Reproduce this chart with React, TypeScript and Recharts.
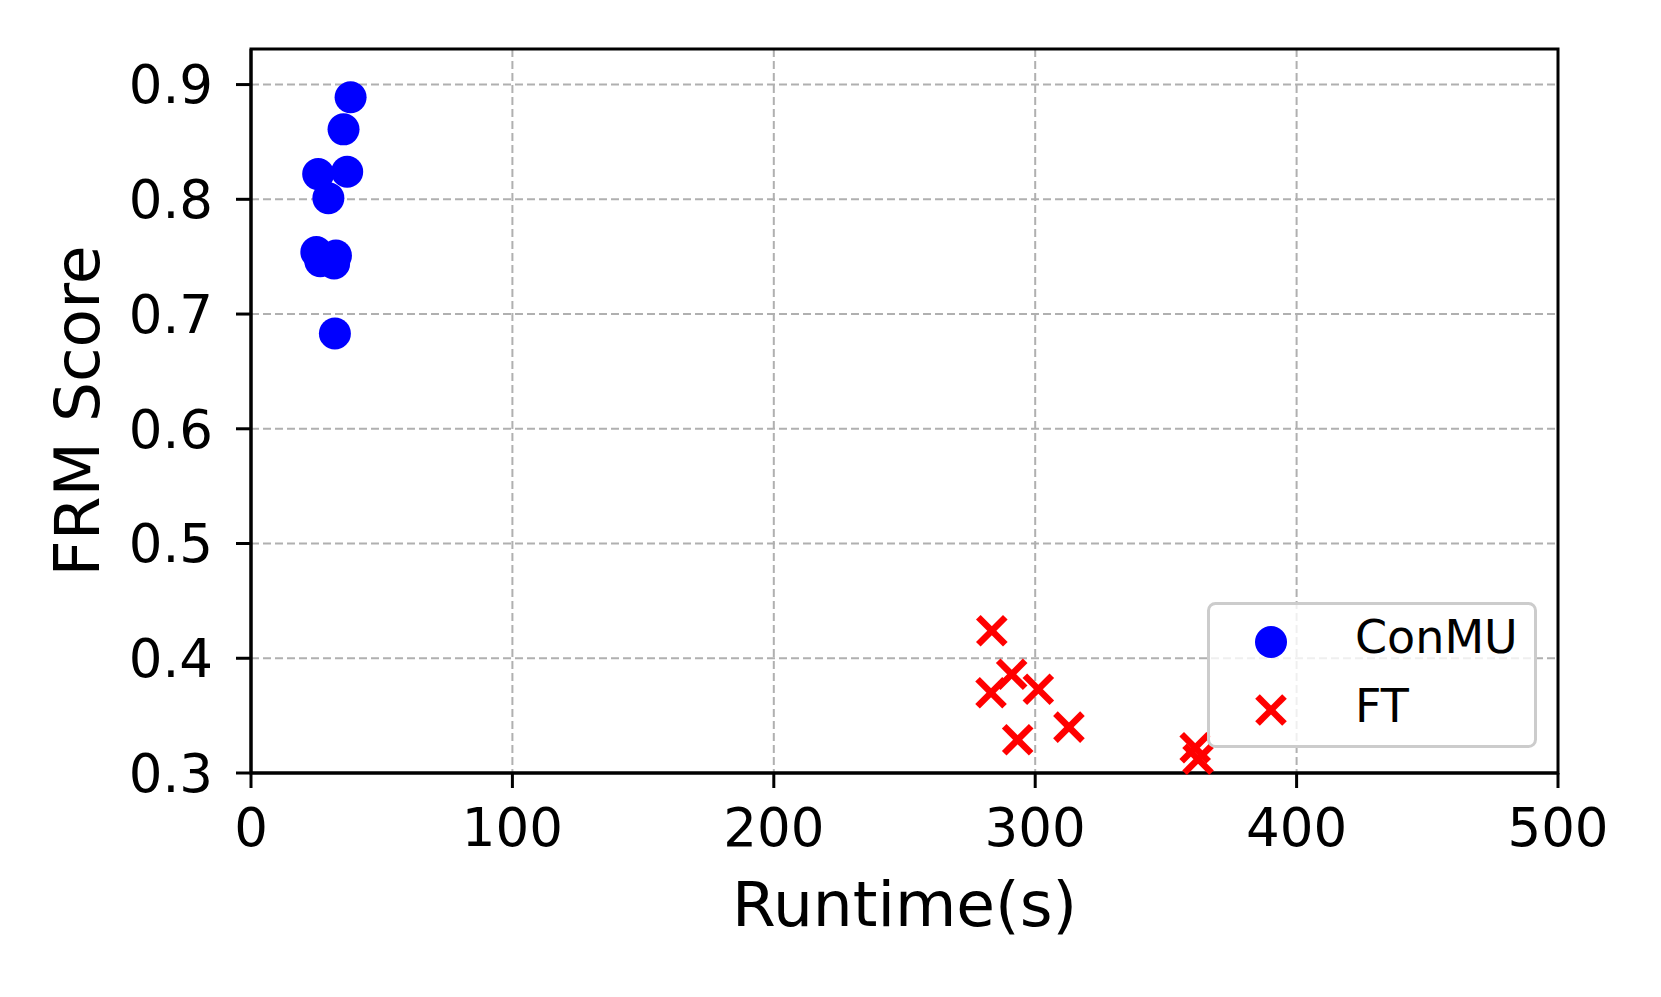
import React from 'react';
import {
  ScatterChart,
  Scatter,
  XAxis,
  YAxis,
  CartesianGrid,
  ReferenceArea,
  Legend,
  Label
} from 'recharts';

const conmuRuntime = [38.1, 35.4, 36.8, 25.7, 29.6, 25.0, 26.5, 32.5, 31.8, 32.1];
const conmuScore = [0.889, 0.861, 0.824, 0.822, 0.801, 0.754, 0.746, 0.751, 0.744, 0.683];

const ftRuntime = [283.4, 291.0, 283.1, 301.2, 293.3, 312.9, 361.2, 362.3];
const ftScore = [0.424, 0.386, 0.370, 0.373, 0.329, 0.340, 0.322, 0.312];

const xTicks = [0, 100, 200, 300, 400, 500];
const yTicks = [0.3, 0.4, 0.5, 0.6, 0.7, 0.8, 0.9];

const conmuData = conmuRuntime.map((x, i) => ({ x, y: conmuScore[i] }));
const ftData = ftRuntime.map((x, i) => ({ x, y: ftScore[i] }));

const FONT = '"DejaVu Sans", sans-serif';
const BLUE = '#0000ff';
const RED = '#ff0000';

const Dot = (props: any) => <circle cx={props.cx} cy={props.cy} r={16} fill={BLUE} />;

const Cross = (props: any) => {
  const { cx, cy } = props;
  const d = 13.5;
  return (
    <g stroke={RED} strokeWidth={6.5}>
      <line x1={cx - d} y1={cy - d} x2={cx + d} y2={cy + d} />
      <line x1={cx - d} y1={cy + d} x2={cx + d} y2={cy - d} />
    </g>
  );
};

const YTitle = () => (
  <text
    x={99}
    y={411}
    transform="rotate(-90 99 411)"
    textAnchor="middle"
    fontFamily={FONT}
    fontSize={63}
    fill="#000"
  >
    FRM Score
  </text>
);

const renderLegend = () => (
  <svg width={330} height={146} style={{ display: 'block' }}>
    <rect x={1.5} y={1.5} width={327} height={143} rx={7} fill="rgba(255,255,255,0.8)" stroke="#cccccc" strokeWidth={3} />
    <circle cx={64} cy={40} r={16} fill={BLUE} />
    <g stroke={RED} strokeWidth={6.5}>
      <line x1={50.5} y1={94.5} x2={77.5} y2={121.5} />
      <line x1={50.5} y1={121.5} x2={77.5} y2={94.5} />
    </g>
    <text x={148} y={51} fontFamily={FONT} fontSize={46} fill="#000">ConMU</text>
    <text x={148} y={120} fontFamily={FONT} fontSize={46} fill="#000">FT</text>
  </svg>
);

export default function App() {
  const tickStyle = { fontFamily: FONT, fontSize: 53, fill: '#000' };
  return (
    <div style={{ position: 'absolute', left: 0, top: 0, background: '#fff' }}>
      <ScatterChart width={1661} height={997} margin={{ top: 49, right: 103, left: 0, bottom: 0 }}>
        <CartesianGrid stroke="#b0b0b0" strokeWidth={2} strokeDasharray="8 4" />
        <XAxis
          type="number"
          dataKey="x"
          domain={[0, 500]}
          ticks={xTicks}
          height={224}
          tick={tickStyle}
          tickSize={15}
          tickMargin={20}
          tickLine={{ stroke: '#000', strokeWidth: 3 }}
          axisLine={{ stroke: '#000', strokeWidth: 3 }}
        >
          <Label value="Runtime(s)" position="insideBottom" offset={71} style={{ fontFamily: FONT, fontSize: 63, fill: '#000' }} />
        </XAxis>
        <YAxis
          type="number"
          dataKey="y"
          domain={[0.3, 0.931]}
          ticks={yTicks}
          width={251}
          tick={tickStyle}
          tickSize={15}
          tickMargin={23}
          tickFormatter={(v: number) => v.toFixed(1)}
          tickLine={{ stroke: '#000', strokeWidth: 3 }}
          axisLine={{ stroke: '#000', strokeWidth: 3 }}
          label={<YTitle />}
        />
        <ReferenceArea x1={0} x2={500} y1={0.3} y2={0.931} fill="none" stroke="#000" strokeWidth={3} />
        <Scatter name="ConMU" data={conmuData} shape={Dot} isAnimationActive={false} />
        <Scatter name="FT" data={ftData} shape={Cross} isAnimationActive={false} />
        <Legend
          layout="horizontal"
          verticalAlign="middle"
          align="center"
          content={renderLegend}
          wrapperStyle={{ left: 1207, top: 602, width: 330, height: 146 }}
        />
      </ScatterChart>
    </div>
  );
}
